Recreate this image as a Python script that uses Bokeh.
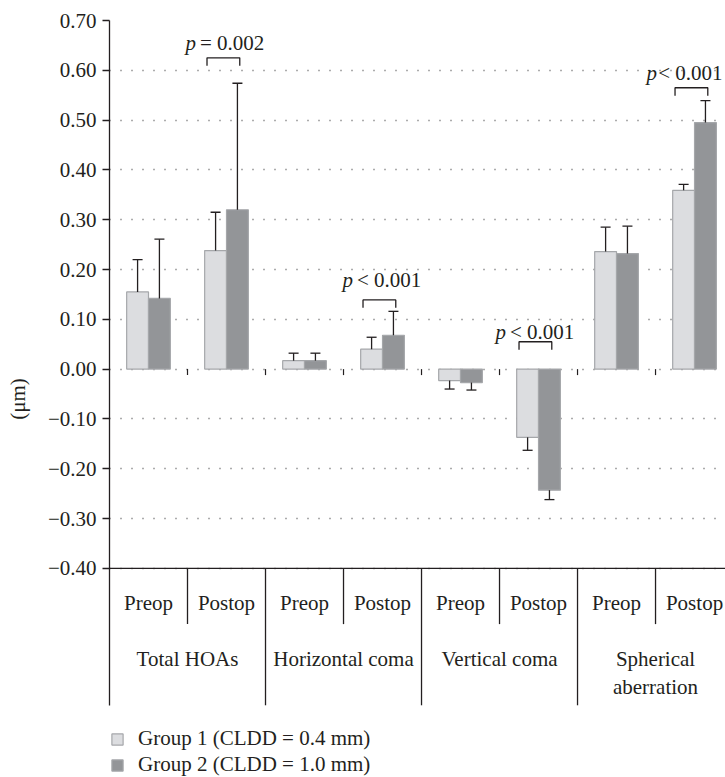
import numpy as np
from bokeh.plotting import figure
from bokeh.models import (ColumnDataSource, Range1d, LinearAxis, FixedTicker,
                          CustomJSTickFormatter, Whisker, TeeHead, Span, Legend,
                          LegendItem, Grid)
from bokeh.core.properties import value
from bokeh.embed import file_html
from bokeh.resources import INLINE

# ---------------- data ----------------
groups = ["Total HOAs", "Horizontal coma", "Vertical coma", "Spherical\naberration"]
phases = ["Preop", "Postop"]
group1_mean = [0.155, 0.238, 0.017, 0.040, -0.023, -0.137, 0.236, 0.359]
group1_sd = [0.065, 0.077, 0.015, 0.024, 0.017, 0.026, 0.049, 0.012]
group2_mean = [0.142, 0.320, 0.017, 0.068, -0.027, -0.243, 0.232, 0.495]
group2_sd = [0.119, 0.254, 0.015, 0.048, 0.015, 0.019, 0.055, 0.044]
y_ticks = [0.70, 0.60, 0.50, 0.40, 0.30, 0.20, 0.10, 0.00, -0.10, -0.20, -0.30, -0.40]
p_values = ["= 0.002", "< 0.001", "< 0.001", "< 0.001"]
p_bracket_y = [0.625, 0.139, 0.055, 0.565]
p_text_y = [0.655, 0.179, 0.075, 0.594]
legend_labels = ["Group 1 (CLDD = 0.4 mm)", "Group 2 (CLDD = 1.0 mm)"]

# ---------------- style ----------------
INK = "#231f20"
LIGHT = "#dcdde0"
DARK = "#939598"
EDGE = "#a5a7aa"
FONT = "Liberation Serif"
FS = "21px"
BAR_W = 0.28
P_START = np.array([-0.526, -0.513, -0.551, -0.615])   # left edge of "p" relative to category centre
P_W = 0.135                                            # width of italic "p"
P_GAP = np.array([0.05, 0.05, 0.05, 0.015])

n_sub = len(groups) * len(phases)
centers = np.arange(n_sub) + 0.5
x1 = centers - BAR_W / 2
x2 = centers + BAR_W / 2

p = figure(width=725, height=777, x_range=Range1d(0, 7.897), y_range=Range1d(-0.820, 0.70),
           output_backend="svg", toolbar_location=None, x_axis_type=None, y_axis_type=None,
           min_border_left=109, min_border_right=0, min_border_top=20, min_border_bottom=0)
p.outline_line_color = None
p.background_fill_color = "white"

ticker = FixedTicker(ticks=y_ticks, minor_ticks=[])
grid = Grid(dimension=1, ticker=ticker, grid_line_color="#58595b",
            grid_line_dash="1 10", grid_line_width=1.3)
p.add_layout(grid)

yaxis = LinearAxis(ticker=ticker, bounds=(-0.675, 0.70),
                   formatter=CustomJSTickFormatter(code="return (tick < -1e-9 ? '\u2212' : '') + Math.abs(tick).toFixed(2);"))
yaxis.axis_line_color = INK
yaxis.axis_line_width = 1.3
yaxis.major_tick_line_color = INK
yaxis.major_tick_line_width = 1.3
yaxis.major_tick_out = 7
yaxis.major_tick_in = 0
yaxis.minor_tick_line_color = None
yaxis.major_label_standoff = 6
yaxis.major_label_text_font = FONT
yaxis.major_label_text_font_size = FS
yaxis.major_label_text_color = INK
yaxis.axis_label = "(μm)"
yaxis.axis_label_text_font = FONT
yaxis.axis_label_text_font_size = FS
yaxis.axis_label_text_font_style = "normal"
yaxis.axis_label_text_color = INK
yaxis.axis_label_standoff = 15
p.add_layout(yaxis, "left")

# baseline of the value area
p.add_layout(Span(location=y_ticks[-1], dimension="width", line_color=INK, line_width=1.3))

# small ticks on the zero line between categories
dividers = np.arange(1, n_sub)
p.segment(x0=dividers, y0=0, x1=dividers, y1=-0.012, line_color=INK, line_width=1.2)

# bars
src1 = ColumnDataSource(dict(x=x1, top=group1_mean))
src2 = ColumnDataSource(dict(x=x2, top=group2_mean))
r1 = p.vbar(x="x", top="top", bottom=0, width=BAR_W, source=src1,
            fill_color=LIGHT, line_color=EDGE, line_width=1.2)
r2 = p.vbar(x="x", top="top", bottom=0, width=BAR_W, source=src2,
            fill_color=DARK, line_color=EDGE, line_width=1.2)

# one-sided error bars
xs = np.concatenate([x1, x2])
means = np.array(group1_mean + group2_mean)
sds = np.array(group1_sd + group2_sd)
pos = means >= 0
pos_src = ColumnDataSource(dict(base=xs[pos], lower=means[pos], upper=means[pos] + sds[pos]))
neg_src = ColumnDataSource(dict(base=xs[~pos], lower=means[~pos] - sds[~pos], upper=means[~pos]))
p.add_layout(Whisker(source=pos_src, base="base", lower="lower", upper="upper",
                     line_color=INK, line_width=1.3, lower_head=None,
                     upper_head=TeeHead(size=10, line_color=INK, line_width=1.3), level="overlay"))
p.add_layout(Whisker(source=neg_src, base="base", lower="lower", upper="upper",
                     line_color=INK, line_width=1.3, upper_head=None,
                     lower_head=TeeHead(size=10, line_color=INK, line_width=1.3), level="overlay"))

# significance brackets (postop comparisons)
post_c = centers[1::2]
bx, by = [], []
for c, yt in zip(post_c, p_bracket_y):
    bx.append([c - 0.25, c - 0.25, c + 0.17, c + 0.17])
    by.append([yt - 0.016, yt, yt, yt - 0.016])
p.multi_line(xs=bx, ys=by, line_color=INK, line_width=1.3)
p_right = post_c + P_START + P_W
p.text(x=p_right, y=p_text_y, text=["p"] * len(p_values), text_font=value(FONT),
       text_font_size=FS, text_font_style="italic", text_align="right",
       text_baseline="middle", text_color=INK)
p.text(x=p_right + P_GAP, y=p_text_y, text=p_values, text_font=value(FONT),
       text_font_size=FS, text_align="left", text_baseline="middle", text_color=INK)

# category table below the value area
sub_labels = phases * len(groups)
p.text(x=centers, y=[-0.47] * n_sub, text=sub_labels, text_font=value(FONT),
       text_font_size=FS, text_align="center", text_baseline="middle", text_color=INK)
grp_centers = np.arange(len(groups)) * 2 + 1.0
p.text(x=grp_centers, y=[-0.557] * len(groups), text=groups, text_font=value(FONT),
       text_font_size=FS, text_align="center", text_baseline="top", text_color=INK,
       text_line_height=1.2)
sub_div = np.arange(1, n_sub, 2)
grp_div = np.arange(2, n_sub + 1, 2)
p.segment(x0=sub_div, y0=-0.40, x1=sub_div, y1=-0.512, line_color=INK, line_width=1.3)
p.segment(x0=grp_div, y0=-0.40, x1=grp_div, y1=-0.675, line_color=INK, line_width=1.3)

legend = Legend(items=[LegendItem(label=legend_labels[0], renderers=[r1]),
                       LegendItem(label=legend_labels[1], renderers=[r2])],
                location=(1, 0), orientation="vertical", border_line_color=None,
                background_fill_alpha=0, padding=0, margin=0, spacing=1,
                glyph_width=14, glyph_height=14, label_standoff=14,
                label_text_font=FONT, label_text_font_size=FS, label_text_color=INK)
p.add_layout(legend)

open("out.html", "w").write(file_html(p, INLINE))
